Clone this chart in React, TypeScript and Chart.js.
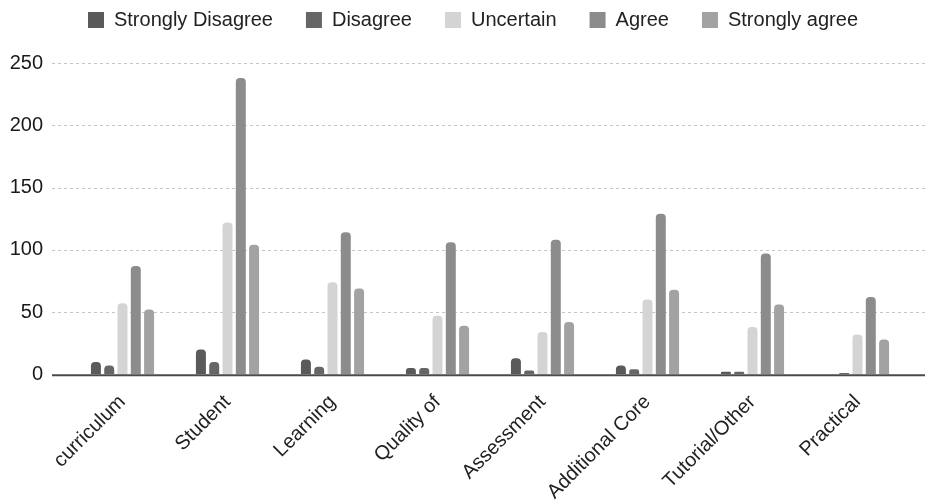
import React, { useEffect, useRef } from 'react';
import { Chart, registerables } from 'chart.js';

Chart.register(...registerables);

const categories = ['curriculum', 'Student', 'Learning', 'Quality of', 'Assessment', 'Additional Core', 'Tutorial/Other', 'Practical'];
const seriesNames = ['Strongly Disagree', 'Disagree', 'Uncertain', 'Agree', 'Strongly agree'];
const stronglyDisagree = [10, 20, 12, 5, 13, 7, 2, 0];
const disagree = [7, 10, 6, 5, 3, 4, 2, 1];
const uncertain = [57, 122, 74, 47, 34, 60, 38, 32];
const agree = [87, 238, 114, 106, 108, 129, 97, 62];
const stronglyAgree = [52, 104, 69, 39, 42, 68, 56, 28];
const yMin = 0;
const yMax = 250;
const yStep = 50;

const colors = ['#5a5a5a', '#666666', '#d4d4d4', '#8c8c8c', '#a2a2a2'];
const FONT = "'Liberation Sans', Arial, sans-serif";

const gridPlugin = {
  id: 'extGrid',
  beforeDatasetsDraw(chart: any) {
    const { ctx, chartArea } = chart;
    const y = chart.scales.y;
    ctx.save();
    ctx.strokeStyle = '#c4c4c4';
    ctx.setLineDash([3, 3]);
    ctx.lineWidth = 1;
    y.ticks.forEach((t: any) => {
      if (t.value === 0) return;
      const py = Math.round(y.getPixelForValue(t.value)) + 0.5;
      ctx.beginPath();
      ctx.moveTo(chartArea.left - 18, py);
      ctx.lineTo(chartArea.right + 15, py);
      ctx.stroke();
    });
    ctx.restore();
  },
  afterDatasetsDraw(chart: any) {
    const { ctx, chartArea } = chart;
    const y = chart.scales.y;
    const py = y.getPixelForValue(0) + 1;
    ctx.save();
    ctx.strokeStyle = '#4a4a4a';
    ctx.lineWidth = 2;
    ctx.beginPath();
    ctx.moveTo(chartArea.left - 18, py);
    ctx.lineTo(chartArea.right + 15, py);
    ctx.stroke();
    ctx.restore();
  },
};

const legendPlace = {
  id: 'legendPlace',
  afterLayout(chart: any) {
    const lg = chart.legend;
    if (!lg) return;
    lg.left += 15;
    lg.right += 15;
    lg.top -= 23;
    lg.bottom -= 23;
  },
};

export default function App() {
  const ref = useRef<HTMLCanvasElement>(null);
  useEffect(() => {
    if (!ref.current) return;
    const data = [stronglyDisagree, disagree, uncertain, agree, stronglyAgree];
    const chart = new Chart(ref.current, {
      type: 'bar',
      data: {
        labels: categories,
        datasets: seriesNames.map((name, i) => ({
          label: name,
          data: data[i],
          backgroundColor: colors[i],
          borderWidth: 0,
          borderRadius: 4,
          borderSkipped: 'bottom',
          categoryPercentage: 0.633,
          barPercentage: 0.75,
        })),
      },
      options: {
        animation: false,
        responsive: true,
        maintainAspectRatio: false,
        layout: { padding: { top: 0, left: 6, right: 15, bottom: -8 } },
        plugins: {
          tooltip: { enabled: false },
          legend: {
            position: 'top',
            labels: {
              boxWidth: 16,
              boxHeight: 16,
              padding: 33,
              color: '#222',
              font: { family: FONT, size: 20 },
            },
          },
        },
        scales: {
          x: {
            grid: { display: false },
            border: { display: false },
            afterFit: (scale: any) => {
              scale.paddingLeft = 0;
              scale.paddingRight = 0;
            },
            ticks: {
              minRotation: 45,
              maxRotation: 45,
              padding: 8,
              color: '#222',
              font: { family: FONT, size: 20 },
            },
          },
          y: {
            min: yMin,
            max: yMax,
            grid: { display: false },
            border: { display: false },
            afterFit: (scale: any) => {
              scale.width = 64;
            },
            ticks: {
              stepSize: yStep,
              padding: 19,
              color: '#1a1a1a',
              font: { family: FONT, size: 20 },
            },
          },
        },
      },
      plugins: [gridPlugin, legendPlace],
    } as any);
    return () => chart.destroy();
  }, []);
  return (
    <div style={{ position: 'fixed', left: 0, top: 0, width: 925, height: 504, background: '#fff' }}>
      <canvas ref={ref} />
    </div>
  );
}
